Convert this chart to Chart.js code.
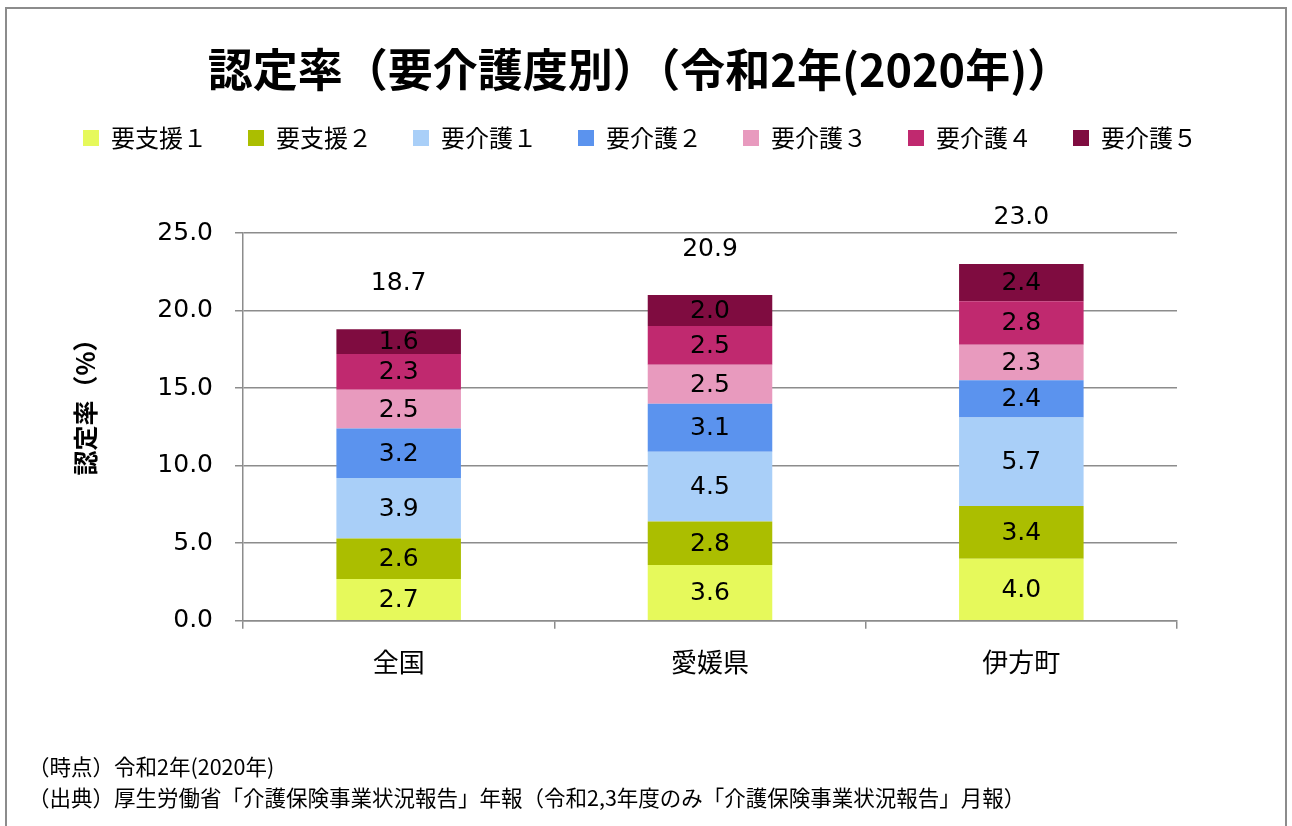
<!DOCTYPE html>
<html lang="ja">
<head>
<meta charset="utf-8">
<title>認定率（要介護度別）</title>
<script src="https://cdn.jsdelivr.net/npm/chart.js@4"></script>
<style>
  html, body { margin: 0; padding: 0; background: #fff; }
  #wrap { position: relative; width: 1292px; height: 826px; overflow: hidden; }
  #frame {
    position: absolute; left: 5px; top: 7px; width: 1282px; height: 840px;
    border: 2px solid #8c8c8c; box-sizing: border-box;
  }
  #chart { position: absolute; left: 0; top: 0; }
  .note {
    position: absolute; left: 28px; font-family: 'Noto Sans CJK JP', sans-serif;
    font-size: 21.5px; color: #000; white-space: nowrap; line-height: 1;
  }
</style>
</head>
<body>
<div id="wrap">
  <div id="frame"></div>
  <canvas id="chart" width="1292" height="826"></canvas>
  <div class="note" style="top:755px">（時点）令和2年(2020年)</div>
  <div class="note" style="top:786px">（出典）厚生労働省「介護保険事業状況報告」年報（令和2,3年度のみ「介護保険事業状況報告」月報）</div>
</div>
<script>
// categories and values
const areas = ['全国', '愛媛県', '伊方町'];
const levels = ['要支援１', '要支援２', '要介護１', '要介護２', '要介護３', '要介護４', '要介護５'];
const shien1 = [2.7, 3.6, 4.0];
const shien2 = [2.6, 2.8, 3.4];
const kaigo1 = [3.9, 4.5, 5.7];
const kaigo2 = [3.2, 3.1, 2.4];
const kaigo3 = [2.5, 2.5, 2.3];
const kaigo4 = [2.3, 2.5, 2.8];
const kaigo5 = [1.6, 2.0, 2.4];
const totals = [18.7, 20.9, 23.0];
const yTicks = [0, 5, 10, 15, 20, 25];

const colors = ['#e6f95b', '#abbe00', '#a9cff8', '#5b93ee', '#e89abe', '#c0296f', '#7f0c40'];
const seriesList = [shien1, shien2, kaigo1, kaigo2, kaigo3, kaigo4, kaigo5];

const numFont = "'DejaVu Sans', 'Noto Sans CJK JP', sans-serif";
const jpFont = "'Noto Sans CJK JP', sans-serif";

// value labels inside each segment, totals above each stack, y axis title
const labelPlugin = {
  id: 'valueLabels',
  afterDatasetsDraw(chart) {
    const ctx = chart.ctx;
    ctx.save();
    ctx.fillStyle = '#000';
    ctx.font = '25px ' + numFont;
    ctx.textAlign = 'center';
    ctx.textBaseline = 'middle';
    chart.data.datasets.forEach((ds, di) => {
      chart.getDatasetMeta(di).data.forEach((bar, i) => {
        ctx.fillText(ds.data[i].toFixed(1), bar.x, (bar.y + bar.base) / 2 + 1);
      });
    });
    const yScale = chart.scales.y;
    const lastMeta = chart.getDatasetMeta(chart.data.datasets.length - 1);
    totals.forEach((t, i) => {
      ctx.fillText(t.toFixed(1), lastMeta.data[i].x, yScale.getPixelForValue(t) - 47);
    });

    // axis title
    ctx.translate(85, 401);
    ctx.rotate(-Math.PI / 2);
    ctx.font = 'bold 25px ' + jpFont;
    ctx.fillText('認定率（%）', 0, 0);
    ctx.restore();
  }
};

new Chart(document.getElementById('chart'), {
  type: 'bar',
  data: {
    labels: areas,
    datasets: levels.map((name, k) => ({
      label: name,
      data: seriesList[k],
      backgroundColor: colors[k],
      borderWidth: 0,
      barPercentage: 0.4,
      categoryPercentage: 1,
      xAxisID: 'x',
      yAxisID: 'y'
    }))
  },
  options: {
    responsive: false,
    animation: false,
    layout: { padding: { left: 0, right: 12, top: 0, bottom: 130 } },
    plugins: {
      title: {
        display: true,
        text: '認定率（要介護度別）（令和2年(2020年)）',
        color: '#000',
        font: { family: jpFont, size: 45, weight: 'bold', lineHeight: 1.2 },
        padding: { top: 43, bottom: -12 }
      },
      legend: {
        position: 'top',
        labels: {
          color: '#000',
          font: { family: jpFont, size: 24 },
          boxWidth: 16,
          boxHeight: 16,
          padding: 41
        }
      },
      tooltip: { enabled: false }
    },
    scales: {
      x: {
        stacked: true,
        grid: { display: true, drawOnChartArea: false, drawTicks: true, tickLength: 8, color: '#8c8c8c', lineWidth: 1.5 },
        border: { display: true, color: '#8c8c8c', width: 1.5 },
        ticks: { color: '#000', font: { family: jpFont, size: 26 }, padding: 18 }
      },
      // spacer between legend and plot
      xTop: {
        type: 'category',
        position: 'top',
        display: true,
        grid: { display: false },
        border: { display: false },
        ticks: { display: false },
        afterFit(scale) { scale.height = 73; }
      },
      y: {
        stacked: true,
        min: 0,
        max: 25,
        afterBuildTicks(scale) { scale.ticks = yTicks.map(v => ({ value: v })); },
        afterFit(scale) { scale.width = 243; },
        grid: { color: '#8c8c8c', lineWidth: 1.5, tickLength: 8 },
        border: { display: true, color: '#8c8c8c', width: 1.5 },
        ticks: { color: '#000', font: { family: numFont, size: 25 }, padding: 22, callback: v => v.toFixed(1) }
      },
      // spacer on the right of the plot
      yRight: {
        type: 'linear',
        position: 'right',
        display: true,
        grid: { display: false },
        border: { display: false },
        ticks: { display: false },
        afterFit(scale) { scale.width = 103; }
      }
    }
  },
  plugins: [labelPlugin]
});
</script>
</body>
</html>
